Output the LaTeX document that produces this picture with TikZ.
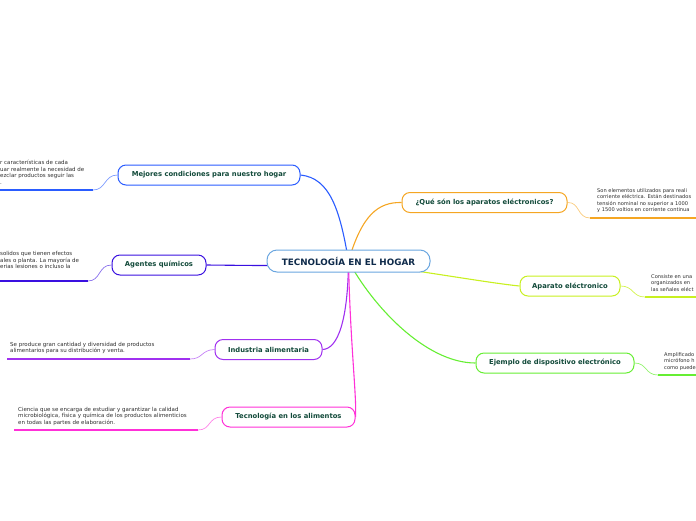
\documentclass[tikz,border=0pt]{standalone}
\usepackage{fontspec}
\setmainfont{DejaVu Sans}
\usetikzlibrary{backgrounds}
\definecolor{nodetext}{HTML}{124A3A}
\definecolor{desctext}{HTML}{2E2E2E}
\definecolor{cblue}{HTML}{2A5CFF}
\definecolor{corange}{HTML}{F5A623}
\definecolor{cyellow}{HTML}{C8F020}
\definecolor{cgreen}{HTML}{66EE33}
\definecolor{cindigo}{HTML}{3A10E0}
\definecolor{cpurple}{HTML}{A030F0}
\definecolor{cmagenta}{HTML}{FF30D8}
\definecolor{ccenter}{HTML}{6AA6E0}
\definecolor{ctitle}{HTML}{0E2A4A}
\tikzset{
  topic/.style={draw, line width=1pt, rounded corners=8pt, fill=white, text=nodetext,
    font=\bfseries\fontsize{6.8}{8}\selectfont, inner sep=0pt, minimum height=20pt},
  central/.style={draw=ccenter, line width=1pt, rounded corners=10pt, fill=white, text=ctitle,
    font=\bfseries\fontsize{8.8}{10}\selectfont, inner sep=0pt, minimum width=163pt, minimum height=22pt},
  desc/.style={anchor=north west, align=left, inner sep=0pt, text=desctext,
    font=\fontsize{5.5}{6.5}\selectfont},
  rdesc/.style={desc, font=\fontsize{5.1}{6.5}\selectfont},
  branch/.style={line width=1.1pt},
  twig/.style={line width=0.7pt},
  uline/.style={line width=1.6pt}
}
\begin{document}
\begin{tikzpicture}[x=1pt,y=-1pt]
\useasboundingbox (0,0) rectangle (696,520);
\clip (0,0) rectangle (696,520);
% nodes
\node[central] (c) at (348.5,261) {TECNOLOGÍA EN EL HOGAR};
\node[topic, draw=cblue, minimum width=182pt] (m) at (209,175) {Mejores condiciones para nuestro hogar};
\node[topic, draw=cindigo, minimum width=94pt] (g) at (159,265) {Agentes químicos};
\node[topic, draw=cpurple, minimum width=107pt] (i) at (268.5,349.5) {Industria alimentaria};
\node[topic, draw=cmagenta, minimum width=133pt] (t) at (288.5,417) {Tecnología en los alimentos};
\node[topic, draw=corange, minimum width=165pt] (q) at (484.5,202.5) {¿Qué són los aparatos eléctronicos?};
\node[topic, draw=cyellow, minimum width=100pt] (a) at (570,286) {Aparato eléctronico};
\node[topic, draw=cgreen, minimum width=158pt] (e) at (555,363) {Ejemplo de dispositivo electrónico};
% descriptions
\node[desc] (md) at (0,160) {r características de cada\\uar realmente la necesidad de\\ezclar productos seguir las\\.};
\node[desc] (gd) at (0,251.5) {solidos que tienen efectos\\ales o planta. La mayoría de\\erias lesiones o incluso la};
\node[desc] (id) at (10,342) {Se produce gran cantidad y diversidad de productos\\alimentarios para su distribución y venta.};
\node[desc] (td) at (18,407) {Ciencia que se encarga de estudiar y garantizar la calidad\\microbiológica, física y química de los productos alimenticios\\en todas las partes de elaboración.};
\node[rdesc] (qd) at (597,188) {Son elementos utilizados para reali\\corriente eléctrica. Están destinados\\tensión nominal no superior a 1000\\y 1500 voltios en corriente continua};
\node[rdesc] (ad) at (651,274) {Consiste en una\\organizados en\\las señales eléct};
\node[rdesc] (ed) at (664,352) {Amplificado\\micrófono h\\como puede};
% underline coordinates
\coordinate (m1) at (93,190); \coordinate (m0) at (0,190);
\coordinate (g1) at (88,281); \coordinate (g0) at (0,281);
\coordinate (i1) at (190,359); \coordinate (i0) at (7,359);
\coordinate (t1) at (198,430); \coordinate (t0) at (14,430);
\coordinate (q1) at (590,218); \coordinate (q0) at (696,218);
\coordinate (a1) at (645,297); \coordinate (a0) at (696,297);
\coordinate (e1) at (658,375); \coordinate (e0) at (696,375);
\begin{pgfonlayer}{background}
% main branches
\draw[branch, cblue] (c.center) .. controls (340,210) and (330,178) .. (m.east);
\draw[branch, corange] (c.center) .. controls (362,215) and (378,202) .. (q.west);
\draw[branch, cyellow] (c.center) .. controls (440,274) and (490,283) .. (a.west);
\draw[branch, cgreen] (c.center) .. controls (372,305) and (425,363) .. (e.west);
\draw[branch, cindigo] (c.center) .. controls (300,266) .. (g.east);
\draw[branch, cpurple] (c.center) .. controls (348,320) and (338,349) .. (i.east);
\draw[branch, cmagenta] (c.center) .. controls (350,340) and (357,400) .. (t.east);
% twigs to descriptions
\draw[twig, cblue!60] (m.west) .. controls (104,175) and (106,190) .. (m1);
\draw[uline, cblue] (m1) -- (m0);
\draw[twig, cindigo!60] (g.west) .. controls (98,265) and (101,281) .. (g1);
\draw[uline, cindigo] (g1) -- (g0);
\draw[twig, cpurple!60] (i.west) .. controls (201,350) and (203,359) .. (i1);
\draw[uline, cpurple] (i1) -- (i0);
\draw[twig, cmagenta!60] (t.west) .. controls (208,417) and (211,430) .. (t1);
\draw[uline, cmagenta] (t1) -- (t0);
\draw[twig, corange!60] (q.east) .. controls (580,202) and (577,218) .. (q1);
\draw[uline, corange] (q1) -- (q0);
\draw[twig, cyellow!80] (a.east) .. controls (634,286) and (632,297) .. (a1);
\draw[uline, cyellow] (a1) -- (a0);
\draw[twig, cgreen!70] (e.east) .. controls (647,363) and (645,375) .. (e1);
\draw[uline, cgreen] (e1) -- (e0);
\end{pgfonlayer}
\end{tikzpicture}
\end{document}
